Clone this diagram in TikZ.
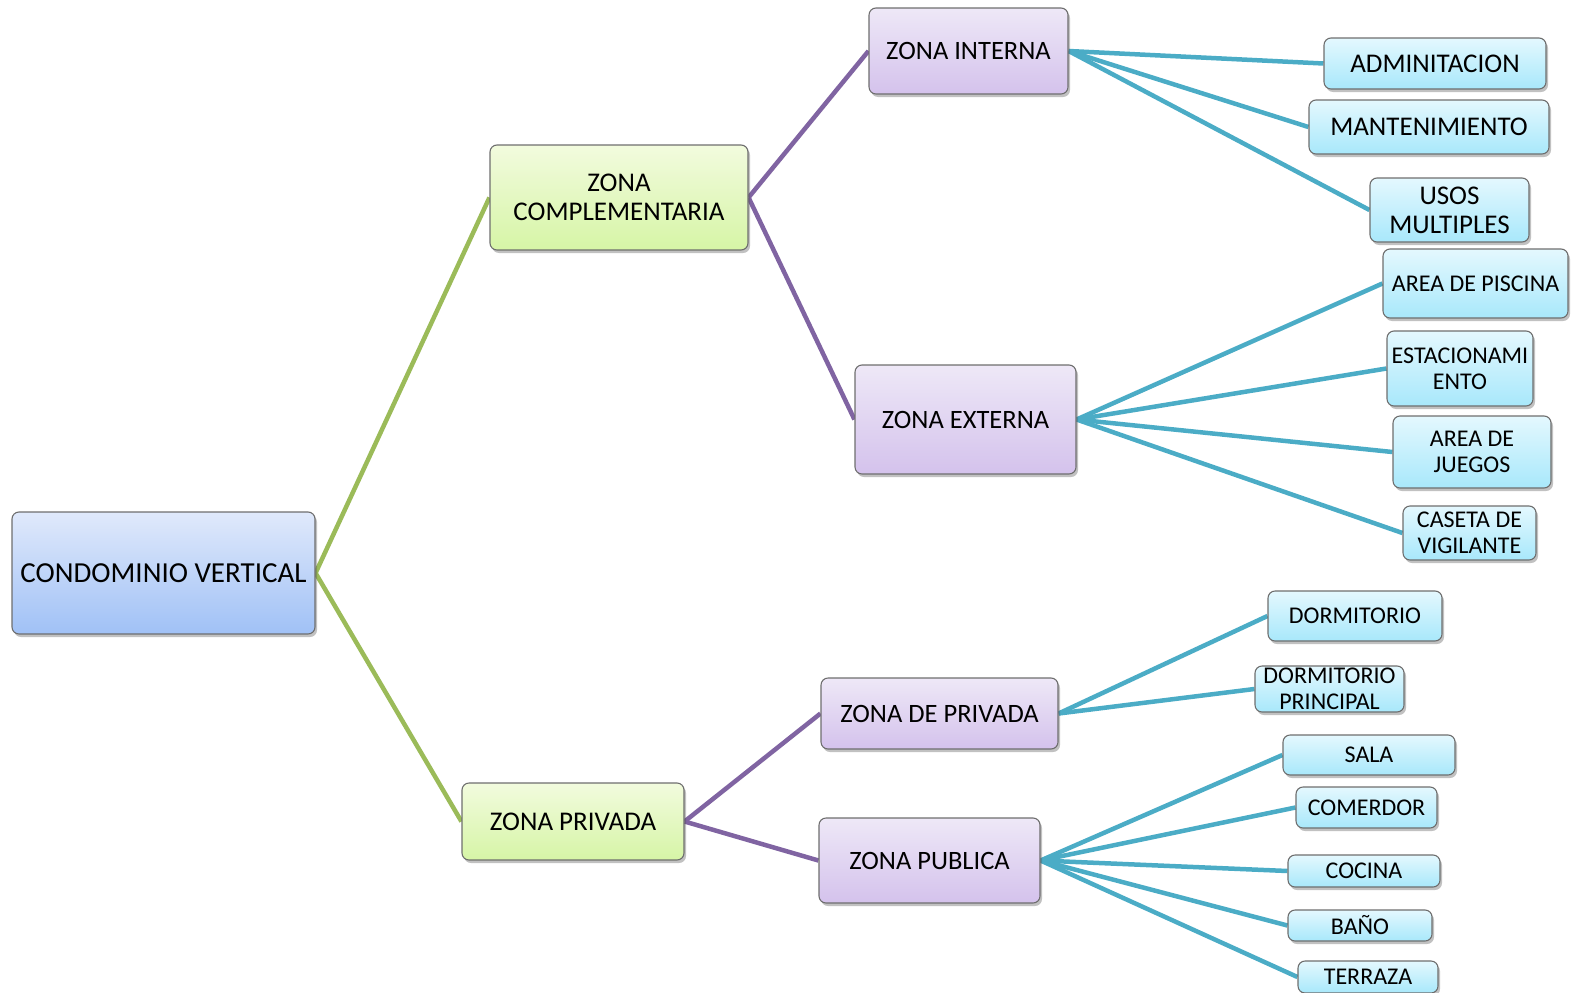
\documentclass[tikz,border=0pt]{standalone}
\usepackage{fontspec}
\setmainfont{Carlito}
\usetikzlibrary{shadows}
\pgfdeclarelayer{background}
\pgfsetlayers{background,main}
\definecolor{lnGreen}{HTML}{9BBB59}
\definecolor{lnPurple}{HTML}{8064A2}
\definecolor{lnTeal}{HTML}{4BACC6}
\definecolor{edgeGray}{HTML}{6E6E6E}
\tikzset{
  box/.style={draw=edgeGray, line width=1.1pt, rounded corners=7pt,
    inner sep=1pt, align=center, text=black,
    drop shadow={shadow xshift=2pt, shadow yshift=-3pt, opacity=0.35, fill=black!70}},
  rootbox/.style={box, top color={rgb,255:red,224;green,233;blue,251}, bottom color={rgb,255:red,160;green,193;blue,246},
    font=\fontsize{29}{34}\selectfont},
  midbox/.style={box, top color={rgb,255:red,242;green,251;blue,222}, bottom color={rgb,255:red,214;green,245;blue,166},
    font=\fontsize{27}{28.5}\selectfont},
  zonebox/.style={box, top color={rgb,255:red,238;green,232;blue,247}, bottom color={rgb,255:red,212;green,194;blue,236},
    font=\fontsize{26.5}{30}\selectfont},
  leafbox/.style={box, top color={rgb,255:red,228;green,248;blue,254}, bottom color={rgb,255:red,168;green,232;blue,251},
    font=\fontsize{27}{29}\selectfont},
  smallleaf/.style={leafbox, font=\fontsize{24}{26}\selectfont},
  lnA/.style={draw=lnGreen, line width=4.5pt},
  lnB/.style={draw=lnPurple, line width=4.5pt},
  lnC/.style={draw=lnTeal, line width=4.5pt},
}
\begin{document}
\begin{tikzpicture}[x=1pt,y=-1pt]
\path[use as bounding box] (0,0) rectangle (1574,993);

% root
\node[rootbox, minimum width=303pt, minimum height=122pt] (root) at (163.5,573) {CONDOMINIO VERTICAL};

% second level
\node[midbox, minimum width=258pt, minimum height=105pt] (comp) at (619,197.5) {ZONA\\COMPLEMENTARIA};
\node[midbox, minimum width=222pt, minimum height=77pt] (priv) at (573,821.5) {ZONA PRIVADA};

% third level
\node[zonebox, minimum width=199pt, minimum height=86pt] (inter) at (968.5,51) {ZONA INTERNA};
\node[zonebox, minimum width=221pt, minimum height=109pt] (exter) at (965.5,419.5) {ZONA EXTERNA};
\node[zonebox, minimum width=237pt, minimum height=71pt] (dpriv) at (939.5,713.5) {ZONA DE PRIVADA};
\node[zonebox, minimum width=221pt, minimum height=85pt] (publ) at (929.5,860.5) {ZONA PUBLICA};

% leaves: zona interna
\node[leafbox, minimum width=222pt, minimum height=51pt] (adm) at (1435,63.5) {ADMINITACION};
\node[leafbox, minimum width=240pt, minimum height=54pt] (mant) at (1429,127) {MANTENIMIENTO};
\node[leafbox, minimum width=159pt, minimum height=64pt] (usos) at (1449.5,210) {USOS\\MULTIPLES};

% leaves: zona externa
\node[smallleaf, minimum width=185pt, minimum height=69pt] (pisc) at (1475.5,283.5) {AREA DE PISCINA};
\node[smallleaf, minimum width=146pt, minimum height=75pt] (esta) at (1460,368.5) {ESTACIONAMI\\ENTO};
\node[smallleaf, minimum width=158pt, minimum height=72pt] (jueg) at (1472,452) {AREA DE\\JUEGOS};
\node[smallleaf, minimum width=133pt, minimum height=54pt] (case) at (1469.5,533) {CASETA DE\\VIGILANTE};

% leaves: zona de privada
\node[smallleaf, minimum width=174pt, minimum height=50pt] (dorm) at (1355,616) {DORMITORIO};
\node[smallleaf, minimum width=149pt, minimum height=46pt, inner sep=0pt] (dprin) at (1329.5,689) {DORMITORIO\\PRINCIPAL};

% leaves: zona publica
\node[smallleaf, minimum width=172pt, minimum height=40pt] (sala) at (1369,755) {SALA};
\node[smallleaf, minimum width=141pt, minimum height=41pt] (come) at (1366.5,807.5) {COMERDOR};
\node[smallleaf, minimum width=152pt, minimum height=32pt] (coci) at (1364,871) {COCINA};
\node[smallleaf, minimum width=144pt, minimum height=31pt] (bano) at (1360,925.5) {BAÑO};
\node[smallleaf, minimum width=140pt, minimum height=32pt] (terr) at (1368,977) {TERRAZA};

% connectors, drawn under the boxes
\begin{pgfonlayer}{background}
  \draw[lnA] (root.east) -- (comp.west);
  \draw[lnA] (root.east) -- (priv.west);
  \draw[lnB] (comp.east) -- (inter.west);
  \draw[lnB] (comp.east) -- (exter.west);
  \draw[lnB] (priv.east) -- (dpriv.west);
  \draw[lnB] (priv.east) -- (publ.west);
  \foreach \c in {adm,mant,usos} \draw[lnC] (inter.east) -- (\c.west);
  \foreach \c in {pisc,esta,jueg,case} \draw[lnC] (exter.east) -- (\c.west);
  \foreach \c in {dorm,dprin} \draw[lnC] (dpriv.east) -- (\c.west);
  \foreach \c in {sala,come,coci,bano,terr} \draw[lnC] (publ.east) -- (\c.west);
\end{pgfonlayer}
\end{tikzpicture}
\end{document}
